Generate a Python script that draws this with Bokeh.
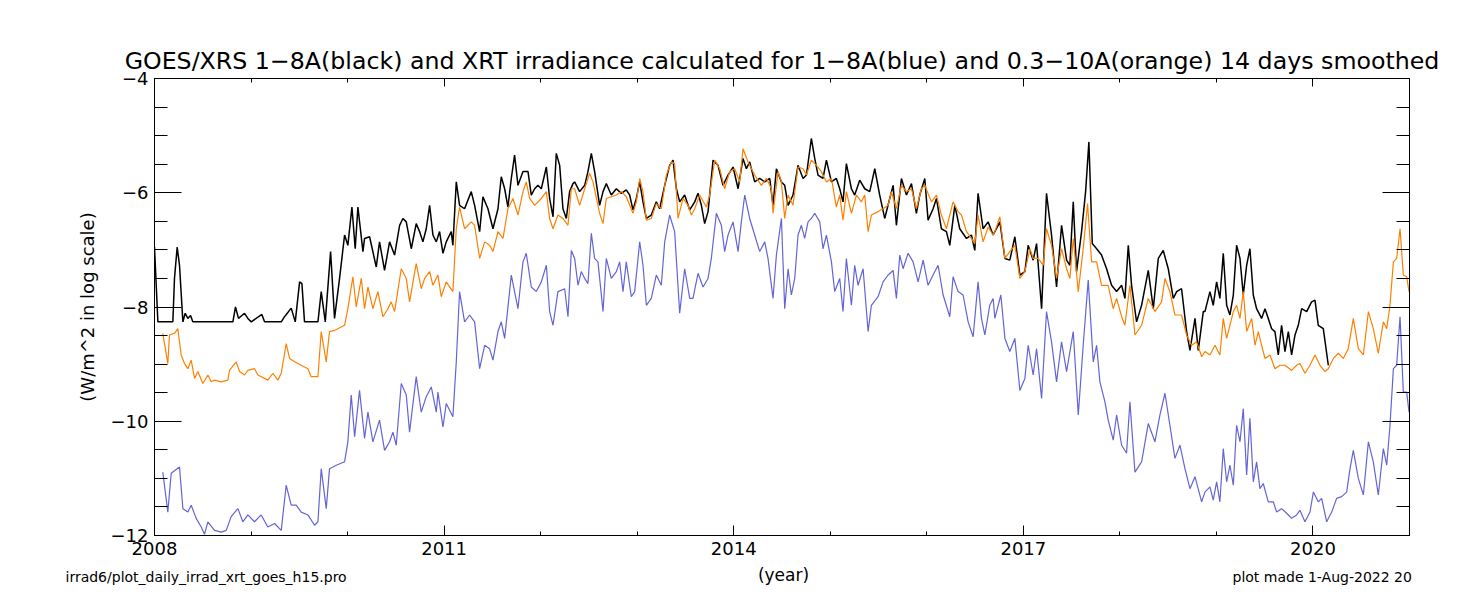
from bokeh.plotting import figure
from bokeh.models import Range1d, LinearAxis, FixedTicker, Label, Title
from bokeh.layouts import column
from bokeh.embed import file_html
from bokeh.resources import INLINE

# ---------------- data (log10 irradiance, W/m^2) ----------------
black_years = [2008.000, 2008.035, 2008.190, 2008.207, 2008.235, 2008.259, 2008.294, 2008.318, 2008.345, 2008.373,
               2008.397, 2008.812, 2008.839, 2008.870, 2008.933, 2008.967, 2009.002, 2009.112, 2009.140, 2009.313,
               2009.347, 2009.416, 2009.458, 2009.503, 2009.527, 2009.554, 2009.693, 2009.727, 2009.769, 2009.824,
               2009.865, 2009.917, 2009.969, 2010.003, 2010.045, 2010.079, 2010.107, 2010.159,
               2010.176, 2010.228, 2010.297, 2010.331, 2010.383, 2010.435, 2010.487, 2010.539, 2010.573, 2010.608,
               2010.660, 2010.711, 2010.746, 2010.780, 2010.815, 2010.850, 2010.884, 2010.919, 2010.953, 2010.988,
               2011.022, 2011.074, 2011.091, 2011.126, 2011.160, 2011.212, 2011.281, 2011.316, 2011.368, 2011.402,
               2011.454, 2011.506, 2011.558, 2011.592, 2011.627, 2011.661, 2011.696, 2011.730, 2011.765, 2011.817,
               2011.869, 2011.903, 2011.938, 2011.972, 2012.007, 2012.059, 2012.093, 2012.128, 2012.162, 2012.197,
               2012.231, 2012.266, 2012.300, 2012.335,
               2012.352, 2012.404, 2012.456, 2012.490, 2012.525, 2012.559, 2012.611, 2012.646, 2012.680, 2012.732,
               2012.784, 2012.836, 2012.887, 2012.922, 2012.956, 2012.991, 2013.026, 2013.060, 2013.095, 2013.146,
               2013.198, 2013.233, 2013.285, 2013.336, 2013.371, 2013.406, 2013.440, 2013.492, 2013.544, 2013.596,
               2013.630, 2013.665, 2013.699, 2013.734, 2013.786, 2013.837, 2013.889, 2013.941, 2013.993, 2014.045,
               2014.096, 2014.131, 2014.165, 2014.217, 2014.269, 2014.321, 2014.373, 2014.407, 2014.442, 2014.494,
               2014.528, 2014.563, 2014.614, 2014.666, 2014.718, 2014.753, 2014.804, 2014.839, 2014.873, 2014.925,
               2014.960, 2015.012, 2015.063, 2015.098, 2015.132, 2015.167, 2015.219, 2015.253, 2015.305, 2015.357,
               2015.409, 2015.461, 2015.512, 2015.564, 2015.616, 2015.651, 2015.685, 2015.737, 2015.789, 2015.841,
               2015.892, 2015.927, 2015.979, 2016.013, 2016.065, 2016.100, 2016.151, 2016.203, 2016.238, 2016.290,
               2016.341, 2016.411, 2016.462, 2016.497, 2016.531, 2016.583, 2016.635, 2016.687,
               2016.705, 2016.757, 2016.809, 2016.860, 2016.912, 2016.964, 2017.016, 2017.050, 2017.102, 2017.137,
               2017.189, 2017.240, 2017.292, 2017.344, 2017.396, 2017.448, 2017.482, 2017.517, 2017.551, 2017.603,
               2017.645, 2017.679, 2017.714, 2017.759, 2017.810, 2017.862, 2017.914, 2017.966, 2018.018, 2018.052,
               2018.087, 2018.121, 2018.173, 2018.225, 2018.294, 2018.346, 2018.398, 2018.449, 2018.501, 2018.553,
               2018.588, 2018.639, 2018.691, 2018.726, 2018.778, 2018.812, 2018.864,
               2018.881, 2018.933, 2018.967, 2019.002, 2019.036, 2019.071, 2019.106, 2019.140, 2019.175, 2019.209,
               2019.244, 2019.278, 2019.313, 2019.347, 2019.382, 2019.416, 2019.468, 2019.503, 2019.537, 2019.572,
               2019.606, 2019.641, 2019.675, 2019.710, 2019.745, 2019.779, 2019.814, 2019.848, 2019.883, 2019.935,
               2019.986, 2020.021, 2020.055, 2020.107, 2020.159]
black_vals = [-6.95, -8.26, -8.26, -7.50, -6.95, -7.27, -8.26, -8.11, -8.20, -8.15,
              -8.26, -8.26, -8.00, -8.20, -8.11, -8.20, -8.26, -8.13, -8.26, -8.26,
              -8.17, -8.02, -8.26, -7.56, -7.59, -8.26, -8.26, -7.73, -8.26, -7.03,
              -8.20, -7.50, -6.74, -6.92, -6.25, -6.98, -6.25, -7.03,
              -6.80, -6.77, -7.30, -6.86, -7.36, -6.86, -7.09, -6.57, -6.45, -6.51,
              -6.98, -6.54, -6.68, -6.86, -6.63, -6.22, -6.74, -6.86, -6.68, -7.06,
              -6.86, -6.68, -6.92, -5.81, -6.22, -6.28, -5.98, -6.22, -6.68, -6.07,
              -6.28, -6.63, -6.28, -5.72, -5.93, -6.25, -5.75, -5.34, -5.87, -5.63,
              -5.63, -6.04, -5.93, -5.87, -5.93, -5.55, -6.10, -6.42, -5.31, -5.52,
              -6.28, -6.45, -5.98, -5.84,
              -5.81, -5.98, -5.87, -5.63, -5.31, -5.63, -6.22, -5.98, -5.84, -6.04,
              -5.93, -6.01, -5.95, -6.04, -6.30, -6.10, -5.81, -6.16, -6.45, -6.39,
              -6.16, -6.28, -5.87, -5.52, -5.43, -5.93, -6.16, -6.04, -6.30, -6.16,
              -6.01, -6.22, -6.54, -6.33, -5.43, -5.52, -5.87, -5.69, -5.55, -5.93,
              -5.40, -5.58, -5.46, -5.81, -5.75, -5.81, -5.75, -6.22, -5.58, -5.81,
              -5.87, -6.22, -6.04, -5.52, -5.75, -5.69, -5.05, -5.40, -5.69, -5.75,
              -5.43, -5.81, -5.75, -5.93, -6.16, -5.49, -5.93, -6.04, -5.78, -5.93,
              -5.98, -5.58, -6.04, -6.45, -6.10, -5.87, -6.57, -5.75, -6.04, -5.84,
              -6.36, -6.04, -5.75, -6.48, -6.28, -6.10, -6.63, -6.68, -6.92, -6.22,
              -6.63, -6.80, -6.74, -7.01, -6.01, -6.63, -6.51, -6.74,
              -6.68, -6.51, -7.15, -7.18, -6.77, -7.44, -7.38, -6.92, -7.18, -6.89,
              -8.03, -6.01, -6.74, -7.65, -6.57, -7.18, -7.27, -6.16, -7.38, -6.68,
              -5.98, -5.11, -6.89, -6.98, -7.09, -7.33, -7.62, -7.73, -7.62, -7.85,
              -6.92, -7.62, -8.26, -7.97, -7.36, -8.03, -7.15, -7.01, -7.33, -7.85,
              -7.73, -7.68, -8.43, -8.76, -8.20, -8.76, -8.08,
              -8.08, -7.73, -7.97, -7.56, -7.85, -7.06, -7.97, -8.14, -7.79, -6.92,
              -7.15, -7.79, -7.27, -6.98, -7.79, -8.03, -8.20, -8.03, -8.20, -8.38,
              -8.43, -8.84, -8.32, -8.78, -8.43, -8.84, -8.49, -8.32, -8.03, -8.08,
              -7.91, -7.88, -8.32, -8.38, -9.02]

orange_years = [2008.086, 2008.138, 2008.155, 2008.207, 2008.242, 2008.276, 2008.311, 2008.345, 2008.380, 2008.415,
                2008.449, 2008.501, 2008.553, 2008.587, 2008.622, 2008.691, 2008.760, 2008.777, 2008.846, 2008.881,
                2008.933, 2008.967, 2009.036, 2009.071, 2009.174, 2009.226, 2009.278, 2009.313, 2009.364, 2009.399,
                2009.451, 2009.520, 2009.589, 2009.623, 2009.693, 2009.727, 2009.779, 2009.813, 2009.865, 2009.969,
                2010.003, 2010.055, 2010.090, 2010.142,
                2010.176, 2010.211, 2010.262, 2010.314, 2010.366, 2010.418, 2010.452, 2010.487, 2010.556, 2010.608,
                2010.642, 2010.711, 2010.763, 2010.798, 2010.850, 2010.884, 2010.936, 2010.970, 2011.022, 2011.091,
                2011.126, 2011.160, 2011.212, 2011.281, 2011.316, 2011.368, 2011.420, 2011.471, 2011.506, 2011.558,
                2011.610, 2011.661, 2011.713, 2011.765, 2011.817, 2011.851, 2011.886, 2011.938, 2012.007, 2012.059,
                2012.093, 2012.128, 2012.179, 2012.231, 2012.283, 2012.318,
                2012.352, 2012.404, 2012.456, 2012.507, 2012.542, 2012.611, 2012.646, 2012.680, 2012.732, 2012.784,
                2012.836, 2012.887, 2012.956, 2012.991, 2013.026, 2013.060, 2013.095, 2013.146, 2013.198, 2013.250,
                2013.302, 2013.354, 2013.388, 2013.423, 2013.475, 2013.526, 2013.561, 2013.596, 2013.647, 2013.716,
                2013.751, 2013.803, 2013.855, 2013.906, 2013.958, 2014.010, 2014.062, 2014.096, 2014.148, 2014.217,
                2014.286, 2014.338, 2014.390, 2014.407, 2014.459, 2014.494,
                2014.528, 2014.563, 2014.614, 2014.666, 2014.718, 2014.753, 2014.804, 2014.856, 2014.908, 2014.960,
                2015.012, 2015.063, 2015.098, 2015.132, 2015.167, 2015.219, 2015.271, 2015.322, 2015.357, 2015.392,
                2015.426, 2015.495, 2015.547, 2015.599, 2015.633, 2015.685, 2015.737, 2015.789, 2015.841, 2015.892,
                2015.944, 2015.979, 2016.048, 2016.100, 2016.151, 2016.203, 2016.272, 2016.324, 2016.359, 2016.411,
                2016.462, 2016.497, 2016.531, 2016.583, 2016.635, 2016.687,
                2016.705, 2016.757, 2016.809, 2016.860, 2016.912, 2016.964, 2017.016, 2017.068, 2017.102, 2017.154,
                2017.206, 2017.240, 2017.292, 2017.344, 2017.396, 2017.448, 2017.482, 2017.517, 2017.569, 2017.620,
                2017.665, 2017.707, 2017.759, 2017.810, 2017.879, 2017.931, 2017.966, 2018.018, 2018.052, 2018.104,
                2018.156, 2018.225, 2018.294, 2018.363, 2018.432, 2018.467, 2018.518, 2018.570, 2018.639, 2018.691,
                2018.743, 2018.795, 2018.847,
                2018.881, 2018.933, 2018.985, 2019.036, 2019.071, 2019.106, 2019.140, 2019.175, 2019.209, 2019.244,
                2019.278, 2019.313, 2019.365, 2019.399, 2019.434, 2019.468, 2019.503, 2019.555, 2019.606, 2019.658,
                2019.710, 2019.779, 2019.831, 2019.865, 2019.917, 2019.969, 2020.021, 2020.073, 2020.124, 2020.159,
                2020.211, 2020.263, 2020.314, 2020.366, 2020.418, 2020.470, 2020.522, 2020.574, 2020.625, 2020.677,
                2020.729, 2020.764, 2020.798, 2020.833, 2020.867, 2020.902, 2020.936, 2020.971, 2020.995]
orange_vals = [-8.46, -8.99, -8.49, -8.46, -8.38, -8.84, -8.99, -9.08, -8.93, -9.25,
               -9.13, -9.34, -9.19, -9.31, -9.28, -9.31, -9.28, -9.11, -8.96, -9.13,
               -9.19, -9.11, -9.08, -9.19, -9.28, -9.16, -9.28, -9.16, -8.64, -8.90,
               -8.96, -9.02, -9.08, -9.22, -9.22, -8.43, -8.96, -8.43, -8.41, -8.32,
               -8.03, -7.47, -8.00, -7.50,
               -8.03, -7.65, -8.03, -7.73, -8.17, -8.03, -7.91, -8.08, -7.33, -7.50,
               -7.91, -7.24, -7.68, -7.50, -7.38, -7.62, -7.44, -7.82, -7.56, -7.73,
               -6.63, -6.25, -6.63, -6.51, -6.57, -7.15, -6.86, -6.92, -7.03, -6.68,
               -6.80, -6.28, -6.10, -6.39, -5.98, -5.81, -6.10, -6.22, -6.10, -5.98,
               -6.45, -6.63, -6.39, -6.45, -6.57, -5.93,
               -5.93, -6.22, -5.93, -5.66, -5.81, -6.36, -6.54, -6.10, -6.07, -6.04,
               -5.98, -6.07, -6.36, -6.16, -5.75, -5.98, -6.48, -6.45, -6.19, -6.28,
               -5.69, -5.46, -5.49, -6.45, -6.10, -6.22, -6.39, -6.28, -6.04, -6.25,
               -6.04, -5.43, -5.58, -5.93, -5.63, -5.58, -5.81, -5.23, -5.46, -5.69,
               -5.87, -5.75, -5.93, -6.36, -5.63, -5.81,
               -6.45, -6.04, -6.22, -5.55, -5.58, -5.69, -5.43, -5.52, -5.63, -5.81,
               -5.75, -6.25, -6.04, -6.48, -5.98, -6.36, -6.04, -6.16, -6.04, -6.68,
               -6.39, -6.33, -6.28, -6.22, -5.98, -6.28, -5.87, -5.98, -5.93, -6.28,
               -5.93, -5.87, -6.16, -6.04, -6.39, -6.63, -6.16, -6.33, -6.39, -6.68,
               -6.80, -6.89, -6.39, -6.86, -6.60, -6.74,
               -6.68, -6.42, -7.15, -7.03, -6.92, -7.50, -7.38, -6.98, -7.15, -7.15,
               -7.27, -6.63, -6.92, -7.50, -6.98, -7.33, -7.50, -6.80, -7.73, -6.98,
               -6.19, -7.21, -7.21, -7.62, -7.62, -8.03, -7.85, -8.17, -8.32, -7.62,
               -8.49, -8.32, -7.85, -8.08, -7.91, -7.50, -7.73, -8.14, -8.14, -8.49,
               -8.67, -8.61, -8.87,
               -8.78, -8.84, -8.67, -8.84, -8.20, -8.55, -8.32, -8.08, -7.97, -8.20,
               -7.73, -8.43, -8.20, -8.67, -8.43, -8.67, -8.90, -8.84, -9.08, -9.02,
               -9.02, -9.11, -9.02, -8.99, -9.16, -9.02, -8.84, -9.02, -9.13, -9.08,
               -8.90, -8.81, -8.90, -8.73, -8.20, -8.73, -8.84, -8.08, -8.38, -8.81,
               -8.26, -8.38, -7.97, -7.21, -7.15, -6.63, -7.44, -7.47, -7.73]

blue_years = [2008.086, 2008.138, 2008.173, 2008.259, 2008.294, 2008.345, 2008.380, 2008.432, 2008.484, 2008.518,
              2008.553, 2008.622, 2008.691, 2008.743, 2008.794, 2008.864, 2008.915, 2008.967, 2009.036, 2009.105,
              2009.174, 2009.244, 2009.313, 2009.364, 2009.416, 2009.468, 2009.520, 2009.589, 2009.658, 2009.693,
              2009.727, 2009.779, 2009.813, 2009.883, 2009.969, 2010.003, 2010.038, 2010.073, 2010.124,
              2010.176, 2010.211, 2010.262, 2010.331, 2010.383, 2010.435, 2010.470, 2010.504, 2010.556, 2010.608,
              2010.642, 2010.711, 2010.763, 2010.815, 2010.867, 2010.919, 2010.936, 2010.988, 2011.022, 2011.091,
              2011.126, 2011.160, 2011.212, 2011.264, 2011.316, 2011.368, 2011.420, 2011.471, 2011.506, 2011.558,
              2011.592, 2011.627, 2011.696, 2011.765, 2011.817, 2011.851, 2011.903, 2011.955, 2012.007, 2012.059,
              2012.093, 2012.128, 2012.179, 2012.249, 2012.283, 2012.318,
              2012.352, 2012.387, 2012.421, 2012.456, 2012.490, 2012.525, 2012.559, 2012.594, 2012.646, 2012.680,
              2012.732, 2012.784, 2012.818, 2012.853, 2012.887, 2012.939, 2012.974, 2013.026, 2013.060, 2013.095,
              2013.146, 2013.198, 2013.250, 2013.285, 2013.336, 2013.388, 2013.440, 2013.492, 2013.544, 2013.578,
              2013.630, 2013.682, 2013.734, 2013.768, 2013.820, 2013.872, 2013.906, 2013.941, 2013.993, 2014.045,
              2014.079, 2014.114, 2014.165, 2014.217, 2014.269, 2014.321, 2014.355, 2014.407, 2014.442, 2014.494,
              2014.528, 2014.563, 2014.597, 2014.632, 2014.666, 2014.701, 2014.735, 2014.770, 2014.804, 2014.839,
              2014.891, 2014.925, 2014.960, 2015.012, 2015.046, 2015.098, 2015.132, 2015.167, 2015.219, 2015.253,
              2015.288, 2015.340, 2015.392, 2015.426, 2015.495, 2015.547, 2015.599, 2015.651, 2015.685, 2015.720,
              2015.754, 2015.806, 2015.858, 2015.910, 2015.962, 2016.013, 2016.065, 2016.117, 2016.169, 2016.238,
              2016.272, 2016.324, 2016.376, 2016.428, 2016.480, 2016.531, 2016.566, 2016.601, 2016.652, 2016.687,
              2016.705, 2016.767, 2016.809, 2016.860, 2016.912, 2016.964, 2017.016, 2017.050, 2017.102, 2017.137,
              2017.189, 2017.240, 2017.292, 2017.344, 2017.396, 2017.448, 2017.517, 2017.569, 2017.620, 2017.672,
              2017.724, 2017.759, 2017.793, 2017.845, 2017.879, 2017.931, 2017.966, 2018.018, 2018.069, 2018.104,
              2018.156, 2018.225, 2018.294, 2018.363, 2018.415, 2018.467, 2018.518, 2018.570, 2018.622, 2018.674,
              2018.726, 2018.778, 2018.847,
              2018.881, 2018.933, 2018.967, 2019.002, 2019.036, 2019.071, 2019.106, 2019.140, 2019.175, 2019.209,
              2019.244, 2019.278, 2019.313, 2019.347, 2019.382, 2019.416, 2019.451, 2019.485, 2019.537, 2019.589,
              2019.624, 2019.675, 2019.727, 2019.779, 2019.831, 2019.865, 2019.917, 2019.969, 2020.004, 2020.055,
              2020.090, 2020.142, 2020.194, 2020.245, 2020.297, 2020.349, 2020.384, 2020.418, 2020.470, 2020.522,
              2020.574, 2020.625, 2020.677, 2020.729, 2020.764, 2020.798, 2020.833, 2020.867, 2020.902, 2020.936,
              2020.971, 2020.995]
blue_vals = [-10.89, -11.59, -10.91, -10.80, -11.53, -11.59, -11.47, -11.70, -11.85, -11.98,
             -11.76, -11.91, -11.94, -11.91, -11.67, -11.53, -11.76, -11.64, -11.76, -11.64,
             -11.85, -11.79, -11.91, -11.12, -11.47, -11.47, -11.59, -11.64, -11.82, -11.76,
             -10.83, -11.53, -10.83, -10.77, -10.71, -10.36, -9.54, -10.27, -9.46,
             -10.30, -9.84, -10.36, -9.98, -10.51, -10.36, -10.19, -10.42, -9.34, -9.54,
             -10.19, -9.22, -9.84, -9.57, -9.40, -9.84, -9.49, -10.10, -9.69, -9.92,
             -8.96, -7.73, -8.26, -8.14, -8.26, -9.08, -8.67, -8.73, -8.93, -8.43,
             -8.26, -8.55, -7.44, -8.03, -7.21, -7.06, -7.65, -7.73, -7.56, -7.27,
             -8.08, -8.32, -7.73, -7.68, -8.17, -7.01,
             -7.15, -7.62, -7.38, -7.50, -7.59, -6.71, -7.15, -7.21, -8.08, -7.15,
             -7.50, -7.38, -7.21, -7.73, -7.21, -7.82, -7.73, -6.86, -7.27, -7.97,
             -7.85, -7.44, -7.62, -6.86, -6.39, -6.68, -8.11, -7.33, -7.85, -7.85,
             -7.41, -7.65, -7.50, -7.15, -6.36, -6.57, -7.03, -6.74, -6.51, -7.03,
             -6.51, -6.04, -6.45, -6.74, -7.03, -6.86, -7.15, -7.85, -7.09, -6.45,
             -8.03, -7.33, -7.79, -7.50, -6.74, -6.57, -6.80, -6.51, -6.45, -6.36,
             -6.51, -6.98, -6.74, -7.21, -7.73, -7.50, -8.08, -7.15, -7.97, -7.27,
             -7.62, -7.33, -8.43, -7.97, -7.82, -7.56, -7.44, -7.36, -7.85, -7.09,
             -7.33, -7.06, -7.21, -7.56, -7.18, -7.62, -7.44, -7.27, -7.79, -8.17,
             -7.47, -7.73, -7.79, -8.26, -8.52, -7.56, -8.20, -8.49, -7.97, -7.85,
             -8.20, -7.79, -8.55, -8.78, -8.55, -9.46, -9.25, -8.67, -9.19, -8.73,
             -9.60, -8.08, -8.61, -9.31, -8.61, -9.13, -8.43, -9.89, -8.67, -7.53,
             -8.96, -8.67, -9.31, -9.66, -9.98, -10.33, -9.89, -10.42, -10.56, -9.66,
             -10.89, -10.71, -10.04, -10.36, -9.89, -9.51, -10.07, -10.65, -10.42, -10.83,
             -11.18, -10.97, -11.41,
             -11.24, -11.15, -11.38, -11.06, -11.41, -10.48, -11.06, -10.77, -11.12, -10.07,
             -10.36, -9.78, -10.94, -9.95, -11.06, -10.71, -11.18, -11.09, -11.41, -11.41,
             -11.59, -11.53, -11.61, -11.70, -11.64, -11.56, -11.76, -11.59, -11.24, -11.41,
             -11.35, -11.76, -11.59, -11.35, -11.32, -11.24, -10.83, -10.51, -11.00, -11.29,
             -10.36, -10.71, -11.29, -10.48, -10.77, -10.07, -9.08, -9.02, -8.17, -9.49,
             -9.49, -9.84]

x_major_ticks = [2008, 2011, 2014, 2017, 2020]
x_minor_ticks = [2009, 2010, 2012, 2013, 2015, 2016, 2018, 2019, 2021]
y_major_ticks = [-12, -10, -8, -6, -4]
y_minor_ticks = [-11.5, -11, -10.5, -9.5, -9, -8.5, -7.5, -7, -6.5, -5.5, -5, -4.5]
y_tick_labels = {-12: "\u221212", -10: "\u221210", -8: "\u22128", -6: "\u22126", -4: "\u22124"}

title_text = ("GOES/XRS 1\u22128A(black) and XRT irradiance calculated for 1\u22128A(blue) "
              "and 0.3\u221210A(orange) 14 days smoothed")
x_label = "(year)"
y_label = "(W/m^2 in log scale)"
footer_left = "irrad6/plot_daily_irrad_xrt_goes_h15.pro"
footer_right = "plot made  1-Aug-2022 20"

FONT = "DejaVu Sans"
W = 1441
MAIN_H = 563
FOOT_H = 24

# ---------- main plot ----------
p = figure(width=W, height=MAIN_H, output_backend="svg", toolbar_location=None,
           x_axis_type=None, y_axis_type=None,
           x_range=Range1d(2008, 2021), y_range=Range1d(-12, -4),
           min_border_left=154, min_border_right=32, min_border_top=78, min_border_bottom=28)
p.frame_align = False
p.background_fill_color = "white"
p.border_fill_color = "white"
p.outline_line_color = "black"
p.outline_line_width = 1
p.title = Title(text=title_text, align="center", text_font=FONT, text_font_size="23.7px",
                text_font_style="normal", text_color="black", standoff=8)


def make_axis(ticks, minor, major_in, minor_in, labels=True, overrides=None):
    ax = LinearAxis(ticker=FixedTicker(ticks=ticks, minor_ticks=minor))
    ax.axis_line_color = "black"
    ax.major_tick_line_color = "black"
    ax.minor_tick_line_color = "black"
    ax.major_tick_in = major_in
    ax.major_tick_out = 0
    ax.minor_tick_in = minor_in
    ax.minor_tick_out = 0
    if labels:
        ax.major_label_text_font = FONT
        ax.major_label_text_font_size = "18px"
        ax.major_label_text_color = "black"
        if overrides:
            ax.major_label_overrides = overrides
    else:
        ax.major_label_text_font_size = "0px"
        ax.major_label_text_alpha = 0
        ax.major_label_standoff = 0
    return ax


bottom = make_axis(x_major_ticks, x_minor_ticks, 10, 4)
bottom.major_label_standoff = 6
top = make_axis(x_major_ticks, x_minor_ticks, 8, 4, labels=False)
left = make_axis(y_major_ticks, y_minor_ticks, 27, 13, overrides=y_tick_labels)
left.major_label_standoff = 6
left.axis_label = y_label
left.axis_label_text_font = FONT
left.axis_label_text_font_size = "18px"
left.axis_label_text_font_style = "normal"
left.axis_label_text_color = "black"
left.axis_label_standoff = 10
right = make_axis(y_major_ticks, y_minor_ticks, 27, 13, labels=False)
p.add_layout(bottom, "below")
p.add_layout(top, "above")
p.add_layout(left, "left")
p.add_layout(right, "right")

p.line(black_years, black_vals, line_color="black", line_width=1.5)
p.line(blue_years, blue_vals, line_color="#6464d6", line_width=1.2)
p.line(orange_years, orange_vals, line_color="#ff8000", line_width=1.2)

# ---------- footer strip (x label and file notes) ----------
p_foot = figure(width=W, height=FOOT_H, output_backend="svg", toolbar_location=None,
                title_location=None, x_axis_type=None, y_axis_type=None,
                x_range=Range1d(0, W), y_range=Range1d(FOOT_H, 0),
                min_border=0, min_border_left=0, min_border_right=0, min_border_top=0, min_border_bottom=0)
p_foot.frame_align = False
p_foot.outline_line_color = None
p_foot.background_fill_color = "white"
p_foot.border_fill_color = "white"
p_foot.add_layout(Label(x=783, y=11, text=x_label, text_align="center", text_baseline="alphabetic",
                        text_font=FONT, text_font_size="17px", text_color="black"))
p_foot.add_layout(Label(x=65, y=13, text=footer_left, text_align="left", text_baseline="alphabetic",
                        text_font=FONT, text_font_size="14px", text_color="black"))
p_foot.add_layout(Label(x=1232, y=13, text=footer_right, text_align="left", text_baseline="alphabetic",
                        text_font=FONT, text_font_size="14px", text_color="black"))

layout = column(p, p_foot, spacing=0)
open("out.html", "w").write(file_html(layout, INLINE))
